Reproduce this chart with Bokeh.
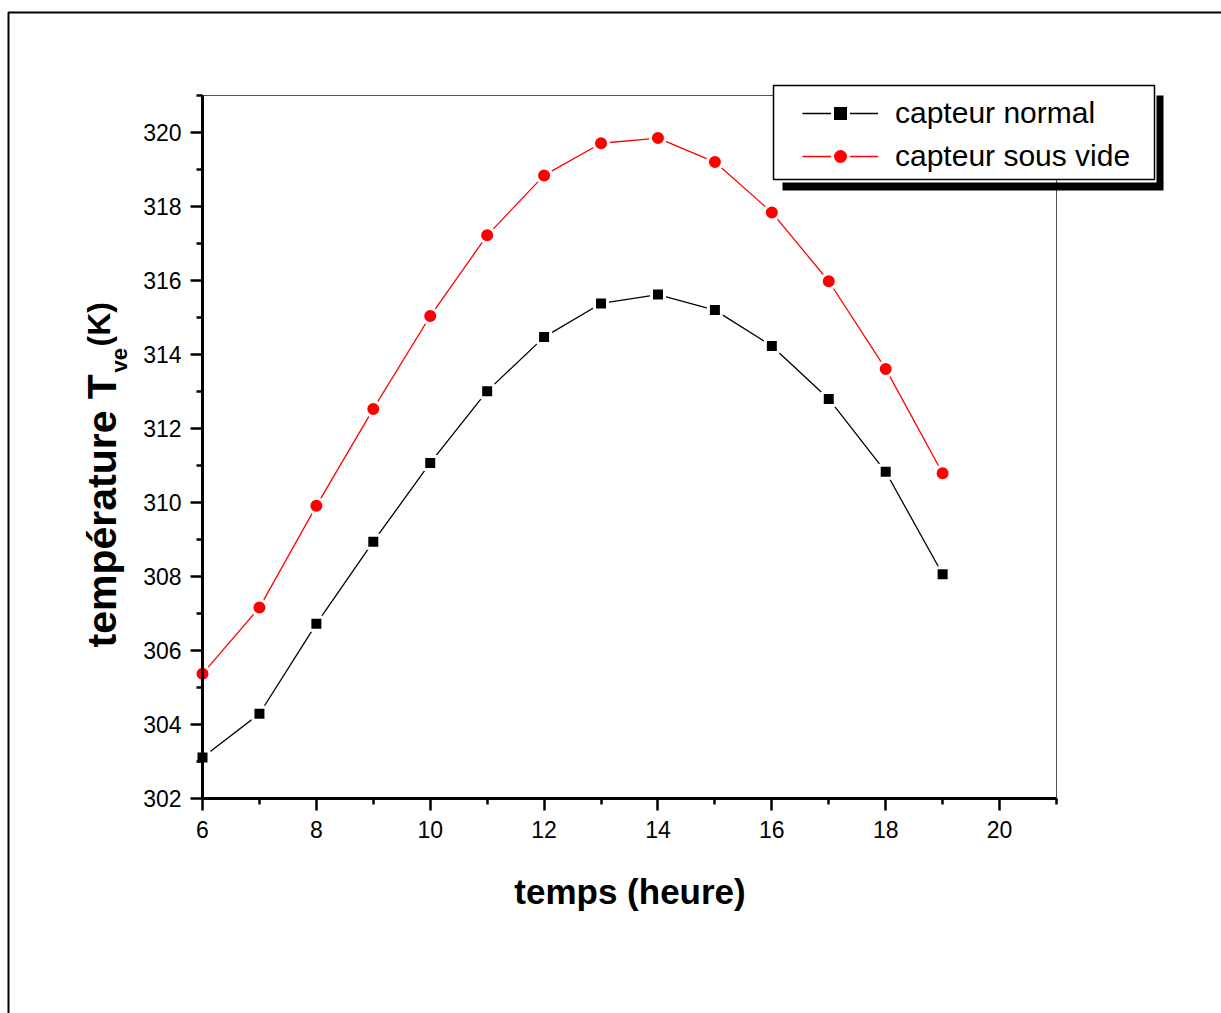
import math
from bokeh.plotting import figure
from bokeh.models import (Range1d, FixedTicker, Legend, LegendItem,
                          BoxAnnotation, Label)
from bokeh.embed import file_html
from bokeh.resources import INLINE

# ---- data -------------------------------------------------------------
hours = [6, 7, 8, 9, 10, 11, 12, 13, 14, 15, 16, 17, 18, 19]
capteur_normal = [303.11, 304.29, 306.72, 308.94, 311.07, 313.01, 314.47,
                  315.38, 315.62, 315.20, 314.23, 312.80, 310.83, 308.06]
capteur_sous_vide = [305.37, 307.16, 309.91, 312.53, 315.04, 317.22, 318.84,
                     319.71, 319.85, 319.20, 317.84, 315.98, 313.61, 310.79]

x_major = [6, 8, 10, 12, 14, 16, 18, 20]
x_minor = [7, 9, 11, 13, 15, 17, 19, 21]
y_major = [302, 304, 306, 308, 310, 312, 314, 316, 318, 320]
y_minor = [303, 305, 307, 309, 311, 313, 315, 317, 319, 321]

series_labels = ["capteur normal", "capteur sous vide"]
x_title = "temps (heure)"
y_title_main = "température T"
y_title_sub = "ve"
y_title_unit = "(K)"

FONT = "Liberation Sans"

# ---- geometry: plot box in canvas pixels --------------------------------
W, H = 1221, 1013
X_LO, X_HI = 6, 21
Y_LO, Y_HI = 302, 321
PX_L, PX_R = 202, 1056
PY_T, PY_B = 95, 798
sx = (PX_R - PX_L) / (X_HI - X_LO)
sy = (PY_B - PY_T) / (Y_HI - Y_LO)
x_range = Range1d(X_LO - PX_L / sx, X_HI + (W - PX_R) / sx)
y_range = Range1d(Y_LO - (H - PY_B) / sy, Y_HI + PY_T / sy)

p = figure(width=W, height=H, output_backend="svg", toolbar_location=None,
           x_range=x_range, y_range=y_range,
           min_border_left=0, min_border_right=0,
           min_border_top=0, min_border_bottom=0)
p.grid.visible = False
p.outline_line_alpha = 0
p.background_fill_color = "white"
p.border_fill_color = "white"

# plot box (thin top/right frame)
frame_box = BoxAnnotation(left=X_LO, right=X_HI, bottom=Y_LO, top=Y_HI,
                          fill_alpha=0, line_color="#555555", line_width=1,
                          line_alpha=1, level="underlay")
p.add_layout(frame_box)

p.xaxis.ticker = FixedTicker(ticks=x_major, minor_ticks=x_minor)
p.yaxis.ticker = FixedTicker(ticks=y_major, minor_ticks=y_minor)
p.xaxis.fixed_location = Y_LO
p.yaxis.fixed_location = X_LO
p.xaxis.bounds = (X_LO, X_HI)
p.yaxis.bounds = (Y_LO, Y_HI)

for ax in (p.xaxis[0], p.yaxis[0]):
    ax.axis_line_width = 3
    ax.axis_line_color = "black"
    ax.major_tick_line_width = 2.5
    ax.minor_tick_line_width = 2.5
    ax.major_tick_in = 0
    ax.major_tick_out = 12
    ax.minor_tick_in = 0
    ax.minor_tick_out = 6
    ax.major_label_text_font = FONT
    ax.major_label_text_font_size = "23px"
    ax.major_label_text_color = "black"

p.xaxis.major_label_standoff = 10
p.yaxis.major_label_standoff = 9

# ---- series -----------------------------------------------------------
r1l = p.line(hours, capteur_normal, line_color="black", line_width=1.3)
r1s = p.scatter(hours, capteur_normal, marker="square", size=13,
                fill_color="black", line_color="white", line_width=3)
r2l = p.line(hours, capteur_sous_vide, line_color="#ff0000", line_width=1.3)
r2s = p.scatter(hours, capteur_sous_vide, marker="circle", size=15,
                fill_color="#ff0000", line_color="white", line_width=3)

# ---- outer frame ------------------------------------------------------
cv = dict(left_units="canvas", right_units="canvas",
          top_units="canvas", bottom_units="canvas")
outer = BoxAnnotation(left=8, right=1400, top=12, bottom=1200, **cv,
                      fill_alpha=0, line_color="black", line_width=2, line_alpha=1)
p.add_layout(outer)

# ---- legend box with shadow ------------------------------------------
shadow_r = BoxAnnotation(left=1156, right=1163, top=95, bottom=183, **cv,
                         fill_color="black", fill_alpha=1, line_alpha=0)
shadow_b = BoxAnnotation(left=782, right=1163, top=182, bottom=190, **cv,
                         fill_color="black", fill_alpha=1, line_alpha=0)
leg_box = BoxAnnotation(left=773, right=1154, top=85, bottom=179, **cv,
                        fill_color="white", fill_alpha=1,
                        line_color="black", line_width=1.5, line_alpha=1)
p.add_layout(shadow_r)
p.add_layout(shadow_b)
p.add_layout(leg_box)

legend = Legend(items=[LegendItem(label=series_labels[0], renderers=[r1l, r1s]),
                       LegendItem(label=series_labels[1], renderers=[r2l, r2s])],
                location=(802, H - 176), border_line_alpha=0,
                background_fill_alpha=0, padding=0, margin=0, spacing=3,
                glyph_width=76, glyph_height=40, label_height=40,
                label_standoff=17, label_text_font=FONT,
                label_text_font_size="30px", label_text_color="black")
p.add_layout(legend)

# ---- axis titles -------------------------------------------------------
lab = dict(x_units="canvas", y_units="canvas", text_font=FONT,
           text_font_style="bold", text_color="black",
           text_baseline="alphabetic")
p.add_layout(Label(x=629.5, y=891, text=x_title, text_font_size="35px",
                   text_align="center", **lab))
p.add_layout(Label(x=101, y=647, text=y_title_main, text_font_size="41px",
                   angle=math.pi / 2, text_align="left", **lab))
p.add_layout(Label(x=119, y=372, text=y_title_sub, text_font_size="22px",
                   angle=math.pi / 2, text_align="left", **lab))
p.add_layout(Label(x=98, y=346, text=y_title_unit, text_font_size="32px",
                   angle=math.pi / 2, text_align="left", **lab))

open("out.html", "w").write(file_html(p, INLINE))
